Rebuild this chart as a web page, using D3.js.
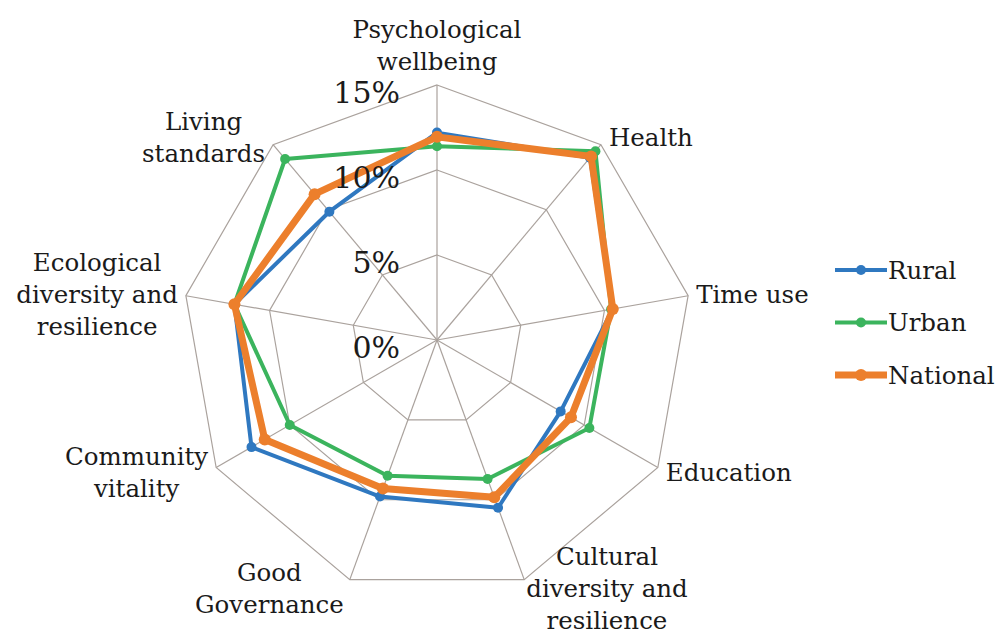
<!DOCTYPE html>
<html>
<head>
<meta charset="utf-8">
<script src="https://cdn.jsdelivr.net/npm/d3@7"></script>
<style>
  body { margin: 0; background: #fff; }
</style>
</head>
<body>
<svg id="radar"></svg>
<script>
// axis categories, clockwise from top
let categories = [
  ["Psychological", "wellbeing"],
  ["Health"],
  ["Time use"],
  ["Education"],
  ["Cultural", "diversity and", "resilience"],
  ["Good", "Governance"],
  ["Community", "vitality"],
  ["Ecological", "diversity and", "resilience"],
  ["Living", "standards"]
];

// values in percent
let rural    = [12.2, 14.0, 10.5, 8.4, 10.5, 9.8, 12.6, 12.1, 9.85];
let urban    = [11.4, 14.5, 10.4, 10.35, 8.7, 8.5, 10.0, 12.1, 13.9];
let national = [11.95, 14.1, 10.5, 9.1, 9.85, 9.3, 11.7, 12.1, 11.2];

let tickValues = [0, 5, 10, 15];
let seriesNames = ["Rural", "Urban", "National"];

let width = 999;
let height = 634;
let cx = 437, cy = 340;
let outer = 255;
let serif = "'DejaVu Serif', 'Liberation Serif', serif";

let svg = d3.select("#radar").attr("width", width).attr("height", height)
  .attr("font-family", serif);

let r = d3.scaleLinear().domain([0, 15]).range([0, outer]);
let angle = d3.scaleLinear().domain([0, categories.length]).range([0, 2 * Math.PI]);

function point(i, v) {
  let a = angle(i);
  return [cx + r(v) * Math.sin(a), cy - r(v) * Math.cos(a)];
}

let plot = svg.append("g");

// grid rings
let grid = plot.append("g").attr("stroke", "#aaa29d").attr("stroke-width", 1.2).attr("fill", "none");
tickValues.filter(t => t > 0).forEach(function(t) {
  let pts = categories.map((c, i) => point(i, t));
  grid.append("path").attr("d", d3.line()(pts) + "Z");
});
// spokes
categories.forEach(function(c, i) {
  let p = point(i, 15);
  grid.append("line").attr("x1", cx).attr("y1", cy).attr("x2", p[0]).attr("y2", p[1]);
});

// category labels
let labels = plot.append("g");
categories.forEach(function(lines, i) {
  let a = angle(i);
  let v = point(i, 15);
  let fs = 24.5, lh = 32;
  let t = labels.append("text").attr("font-size", fs).attr("text-anchor", "middle")
    .attr("font-family", serif).attr("fill", "#1a1a1a");
  lines.forEach(function(l) {
    t.append("tspan").text(l);
  });
  let widest = d3.max(t.selectAll("tspan").nodes(), n => n.getComputedTextLength());
  let bx, by;
  let s = Math.sin(a), c = Math.cos(a);
  if (Math.abs(s) < 0.1) {
    bx = v[0];
    by = v[1] - 24 - (lines.length - 1) * lh;   // centre of first line
  } else {
    bx = s > 0 ? v[0] + 8 + widest / 2 : v[0] - 8 - widest / 2;
    if (Math.abs(c) > 0.9) bx = s > 0 ? v[0] + 2 + widest / 2 : v[0] - 6 - widest / 2;
    let centre = v[1] - 9 * c;
    by = centre - (lines.length - 1) * lh / 2;
  }
  t.selectAll("tspan")
    .attr("x", bx)
    .attr("y", (d, j) => by + j * lh)
    .attr("dy", "0.35em");
});

// series
let series = [
  { name: "Rural", values: rural, color: "#2f78c0", w: 4, mr: 5 },
  { name: "Urban", values: urban, color: "#3bb45d", w: 4, mr: 5 },
  { name: "National", values: national, color: "#ec7f2c", w: 7, mr: 6 }
];

let line = d3.lineRadial().angle((d, i) => angle(i)).radius(d => r(d)).curve(d3.curveLinearClosed);

series.forEach(function(s) {
  let g = plot.append("g").attr("transform", "translate(" + cx + "," + cy + ")");
  g.append("path").attr("d", line(s.values))
    .attr("fill", "none").attr("stroke", s.color).attr("stroke-width", s.w)
    .attr("stroke-linejoin", "round");
  g.selectAll("circle").data(s.values).enter().append("circle")
    .attr("cx", (d, i) => r(d) * Math.sin(angle(i)))
    .attr("cy", (d, i) => -r(d) * Math.cos(angle(i)))
    .attr("r", s.mr).attr("fill", s.color);
});

// tick labels (on top of the series, as in the original)
plot.append("g").selectAll("text").data(tickValues).enter().append("text")
  .attr("x", cx - 37)
  .attr("y", d => cy - r(d) + 18)
  .attr("text-anchor", "end")
  .attr("font-size", 30)
  .attr("font-family", serif)
  .attr("fill", "#1a1a1a")
  .text(d => d + "%");

// legend
let legend = svg.append("g").attr("transform", "translate(835,270)");
series.forEach(function(s, i) {
  let g = legend.append("g").attr("transform", "translate(0," + (i * 52.5) + ")");
  g.append("line").attr("x1", 0).attr("x2", 52).attr("y1", 0).attr("y2", 0)
    .attr("stroke", s.color).attr("stroke-width", s.w);
  g.append("circle").attr("cx", 26).attr("cy", 0).attr("r", s.mr).attr("fill", s.color);
  g.append("text").attr("x", 53).attr("y", 0).attr("dy", "0.35em")
    .attr("font-size", 24.5).attr("font-family", serif).attr("fill", "#1a1a1a").text(s.name);
});
</script>
</body>
</html>
